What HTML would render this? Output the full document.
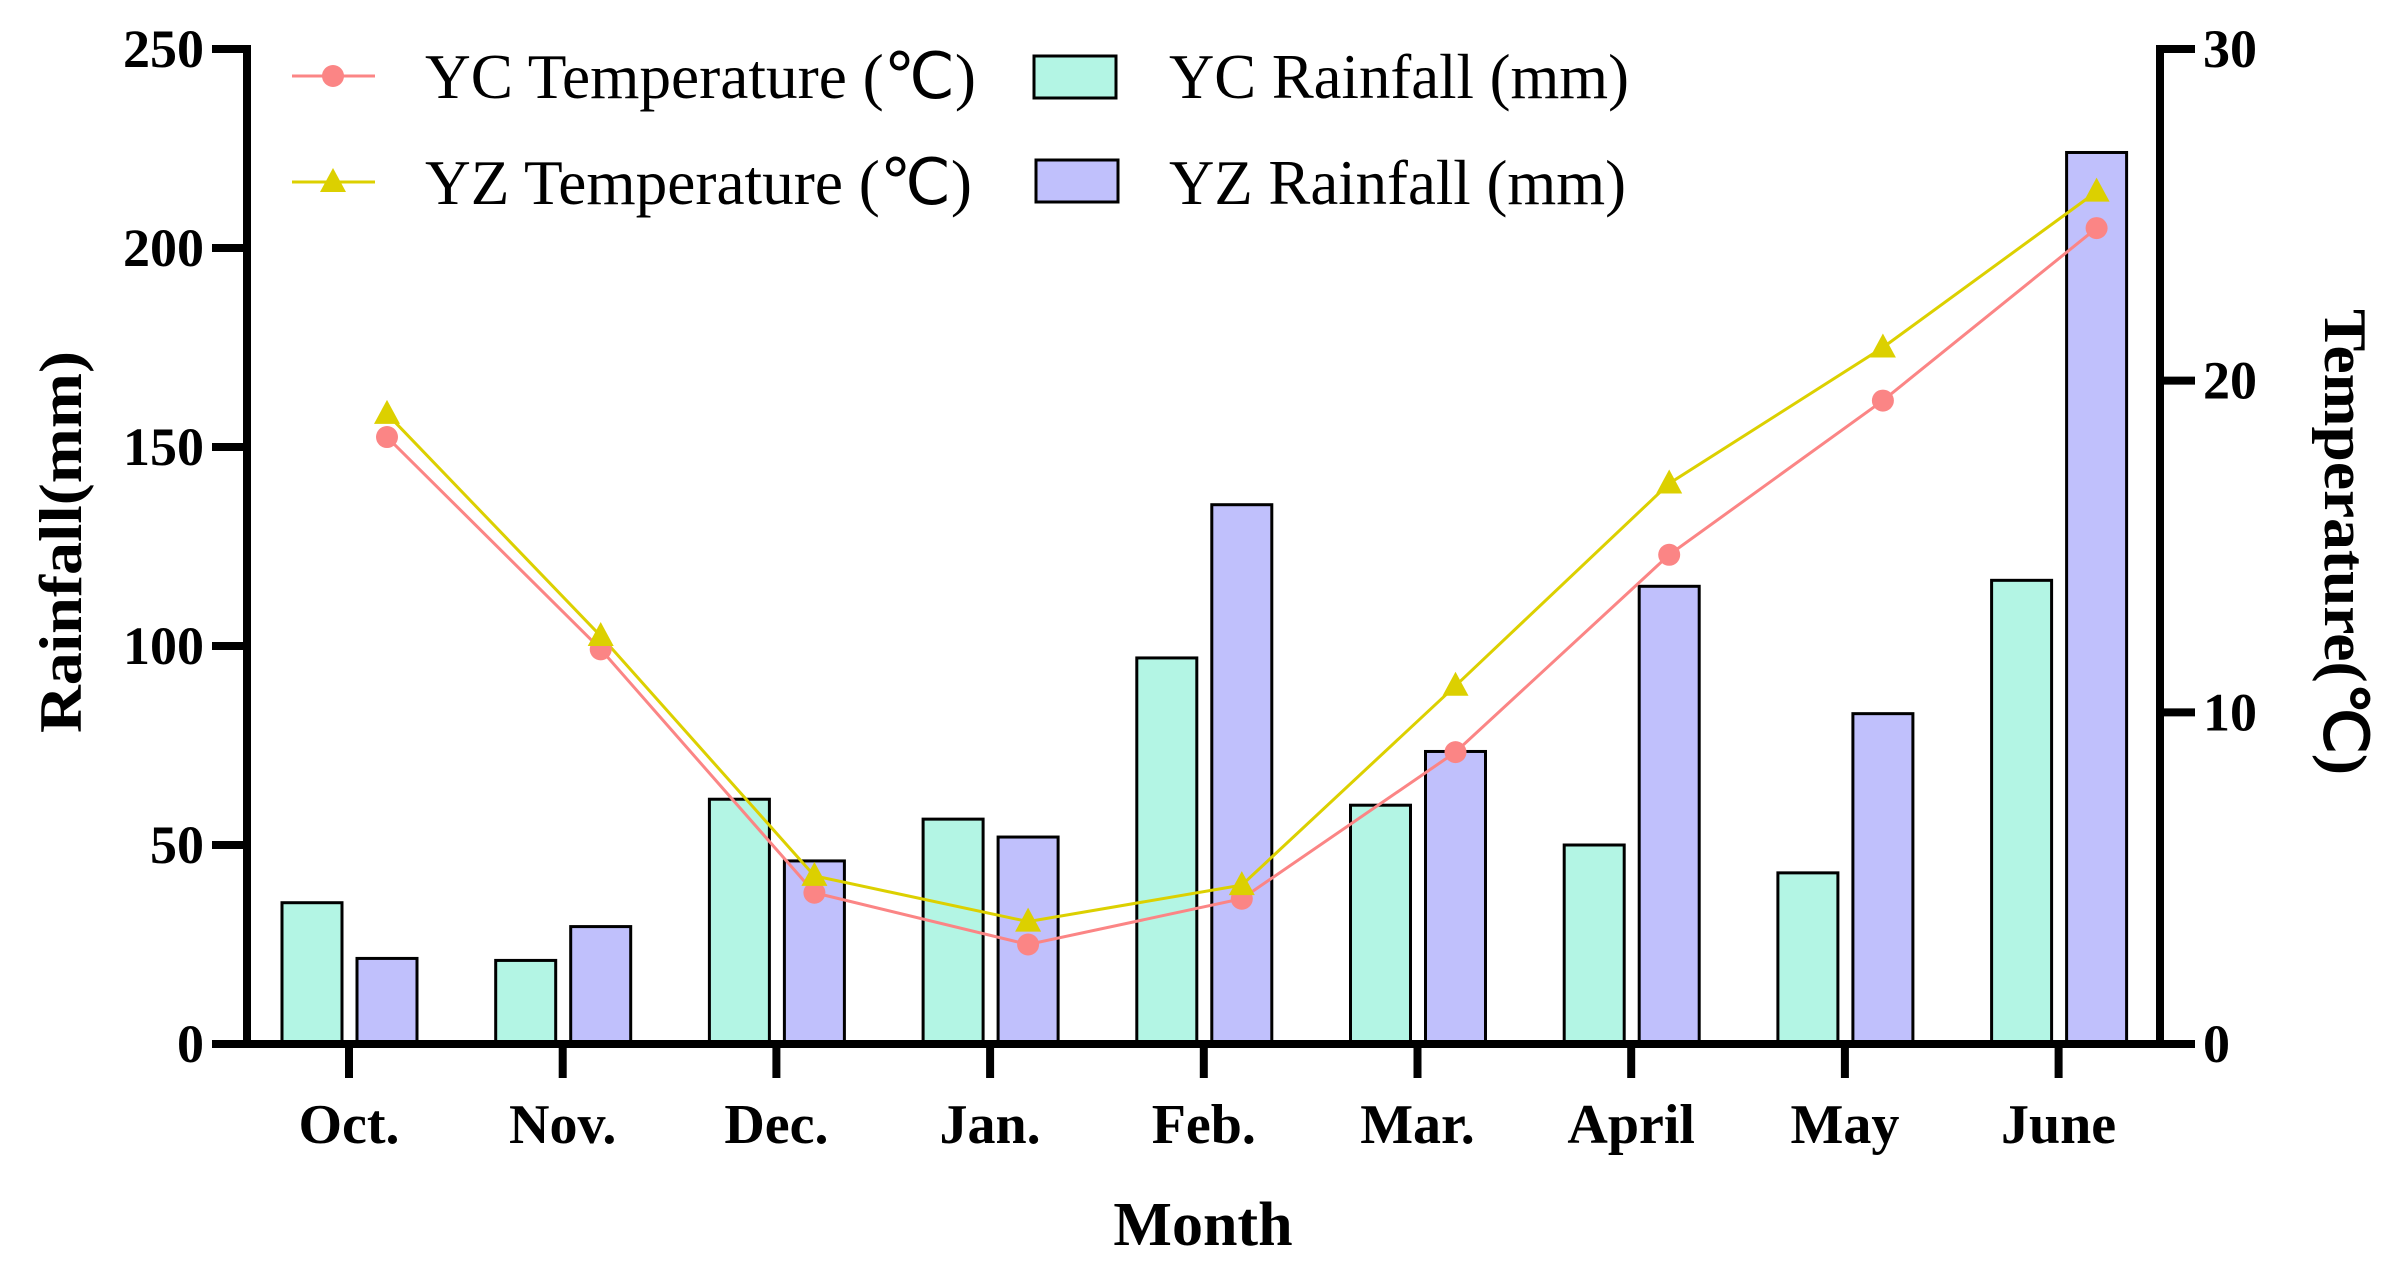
<!DOCTYPE html>
<html><head><meta charset="utf-8"><style>
html,body{margin:0;padding:0;background:#fff;}
svg{display:block;font-family:"Liberation Serif",serif;}
</style></head><body>
<svg id="chart" width="2396" height="1271" viewBox="0 0 2396 1271" xmlns="http://www.w3.org/2000/svg"></svg>
<script>
const categories=["Oct.","Nov.","Dec.","Jan.","Feb.","Mar.","April","May","June"];
const ycRain=[35.5,21,61.5,56.5,97,60,50,43,116.5];
const yzRain=[21.5,29.5,46,52,135.5,73.5,115,83,224];
const ycTemp=[18.3,11.9,4.56,3.0,4.38,8.8,14.75,19.4,24.6];
const yzTemp=[19.0,12.3,5.07,3.69,4.79,10.8,16.9,21.0,25.7];
const rainTicks=[0,50,100,150,200,250];
const tempTicks=[0,10,20,30];

const svg=document.getElementById('chart');
const NS='http://www.w3.org/2000/svg';
const X0=247,X1=2160,Y0=1044,Y1=49;
const xCat=i=>349+i*213.7;
const yRain=v=>Y0-(v/250)*(Y0-Y1);
const yTemp=v=>Y0-(v/30)*(Y0-Y1);
function el(tag,attrs,parent){const e=document.createElementNS(NS,tag);for(const k in attrs)e.setAttribute(k,attrs[k]);(parent||svg).appendChild(e);return e;}
function txt(s,attrs,parent){const e=el('text',attrs,parent);e.textContent=s;return e;}

const bw=60;
categories.forEach((c,i)=>{
  const b1=el('rect',{x:xCat(i)-37-bw/2,y:yRain(ycRain[i]),width:bw,height:Y0-yRain(ycRain[i]),fill:'#b3f5e4',stroke:'#000','stroke-width':3});
  
  
  const b2=el('rect',{x:xCat(i)+38-bw/2,y:yRain(yzRain[i]),width:bw,height:Y0-yRain(yzRain[i]),fill:'#c0c0fc',stroke:'#000','stroke-width':3});
  
  
});
function line(vals,color,name){
  const pts=vals.map((v,i)=>(xCat(i)+38)+','+yTemp(v)).join(' ');
  const p=el('polyline',{points:pts,fill:'none',stroke:color,'stroke-width':3});
  
  
}
line(ycTemp,'#fb8585','yc-temperature');
line(yzTemp,'#dcd000','yz-temperature');
ycTemp.forEach((v,i)=>{
  const c=el('circle',{cx:xCat(i)+38,cy:yTemp(v),r:11,fill:'#fb8585'});
  
  
});
yzTemp.forEach((v,i)=>{
  const x=xCat(i)+38,y=yTemp(v);
  const t=el('polygon',{points:`${x},${y-14} ${x-13},${y+10} ${x+13},${y+10}`,fill:'#dcd000'});
  
  
});
const ax=el('g',{});


el('line',{x1:X0,y1:Y1-4,x2:X0,y2:Y0+4,stroke:'#000','stroke-width':8},ax);
el('line',{x1:X1,y1:Y1-4,x2:X1,y2:Y0+4,stroke:'#000','stroke-width':8},ax);
el('line',{x1:X0-4,y1:Y0,x2:X1+4,y2:Y0,stroke:'#000','stroke-width':8},ax);
rainTicks.forEach(v=>{
  el('line',{x1:212,y1:yRain(v),x2:X0,y2:yRain(v),stroke:'#000','stroke-width':8},ax);
  const t=txt(String(v),{x:204,y:yRain(v)+18,'text-anchor':'end','font-size':54,'font-weight':'bold'},ax);
  
  
});
tempTicks.forEach(v=>{
  el('line',{x1:X1,y1:yTemp(v),x2:2195,y2:yTemp(v),stroke:'#000','stroke-width':8},ax);
  const t=txt(String(v),{x:2203,y:yTemp(v)+18,'font-size':54,'font-weight':'bold'},ax);
  
  
});
categories.forEach((c,i)=>{
  el('line',{x1:xCat(i),y1:Y0,x2:xCat(i),y2:1078,stroke:'#000','stroke-width':8},ax);
  const t=txt(c,{x:xCat(i),y:1143,'text-anchor':'middle','font-size':56,'font-weight':'bold'},ax);
  
  
});
</script>
<script>
(function(){
const svg=document.getElementById('chart');
svg.insertAdjacentHTML('beforeend',`
<text x="1203" y="1245" text-anchor="middle" font-size="62" font-weight="bold">Month</text>
<text transform="translate(81,542) rotate(-90)" text-anchor="middle" font-size="60" font-weight="bold" textLength="382" lengthAdjust="spacingAndGlyphs">Rainfall(mm)</text>
<text transform="translate(2325,542) rotate(90)" text-anchor="middle" font-size="60" font-weight="bold" textLength="466" lengthAdjust="spacingAndGlyphs">Temperature(℃)</text>
<g font-size="64">
 <g>
  <line x1="292" y1="76" x2="375" y2="76" stroke="#fb8585" stroke-width="3"/>
  <circle cx="333" cy="76" r="11" fill="#fb8585"/>
  <text x="425" y="98" textLength="551" lengthAdjust="spacingAndGlyphs">YC Temperature (℃)</text>
 </g>
 <g>
  <line x1="292" y1="182" x2="375" y2="182" stroke="#dcd000" stroke-width="3"/>
  <polygon points="333,168 320,192 346,192" fill="#dcd000"/>
  <text x="425" y="204" textLength="547" lengthAdjust="spacingAndGlyphs">YZ Temperature (℃)</text>
 </g>
 <g>
  <rect x="1034" y="56" width="82" height="42" fill="#b3f5e4" stroke="#000" stroke-width="3"/>
  <text x="1169" y="98" textLength="460" lengthAdjust="spacingAndGlyphs">YC Rainfall (mm)</text>
 </g>
 <g>
  <rect x="1036" y="160" width="82" height="42" fill="#c0c0fc" stroke="#000" stroke-width="3"/>
  <text x="1169" y="204" textLength="457" lengthAdjust="spacingAndGlyphs">YZ Rainfall (mm)</text>
 </g>
</g>`);
})();
</script>
</body></html>
